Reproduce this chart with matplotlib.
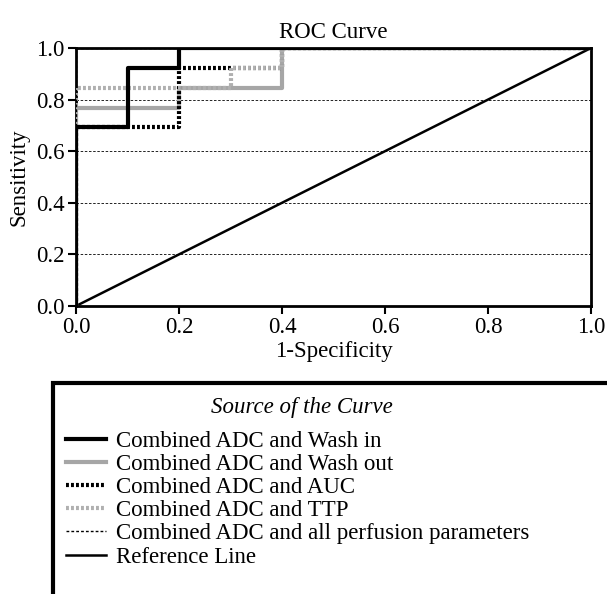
import matplotlib
matplotlib.use("Agg")
import matplotlib.pyplot as plt
from matplotlib.patches import Rectangle

plt.rcParams['font.family'] = ['Liberation Serif', 'DejaVu Serif']

# Data (1-specificity, sensitivity)
wash_in_x = [0, 0, 0.1, 0.1, 0.2, 0.2, 1.0]
wash_in_y = [0, 0.692, 0.692, 0.923, 0.923, 1.0, 1.0]
wash_out_x = [0, 0, 0.2, 0.2, 0.4, 0.4, 1.0]
wash_out_y = [0, 0.769, 0.769, 0.846, 0.846, 1.0, 1.0]
auc_x = [0, 0, 0.2, 0.2, 0.4, 0.4, 1.0]
auc_y = [0, 0.692, 0.692, 0.923, 0.923, 1.0, 1.0]
ttp_x = [0, 0, 0.3, 0.3, 0.4, 0.4, 1.0]
ttp_y = [0, 0.846, 0.846, 0.923, 0.923, 1.0, 1.0]
allp_x = [0, 0, 1.0]
allp_y = [0, 1.0, 1.0]
ref_x = [0, 1.0]
ref_y = [0, 1.0]

labels = ["Combined ADC and Wash in", "Combined ADC and Wash out",
          "Combined ADC and AUC", "Combined ADC and TTP",
          "Combined ADC and all perfusion parameters", "Reference Line"]
ticks = [0.0, 0.2, 0.4, 0.6, 0.8, 1.0]

FS = 16.5

fig = plt.figure(figsize=(6.07, 5.94), dpi=100)
ax = fig.add_axes([76 / 607, 1 - 306 / 594, 515 / 607, 258 / 594])

for t in ticks[1:-1]:
    ax.axhline(t, color='black', lw=0.6, ls=(0, (3, 2)), zorder=1)

l1, = ax.plot(wash_in_x, wash_in_y, color='black', lw=3, zorder=5)
l2, = ax.plot(wash_out_x, wash_out_y, color='#a6a6a6', lw=3, zorder=3)
l3, = ax.plot(auc_x, auc_y, color='black', lw=3, ls=(0, (0.7, 0.5)), zorder=4)
l4, = ax.plot(ttp_x, ttp_y, color='#b0b0b0', lw=3, ls=(0, (0.7, 0.5)), zorder=4.5)
l5, = ax.plot(allp_x, allp_y, color='black', lw=1, ls=(0, (2, 1.5)), zorder=6)
l6, = ax.plot(ref_x, ref_y, color='black', lw=1.8, zorder=2)

ax.set_xlim(0, 1)
ax.set_ylim(0, 1)
ax.set_xticks(ticks)
ax.set_yticks(ticks)
ax.set_xticklabels([f"{t:.1f}" for t in ticks])
ax.set_yticklabels([f"{t:.1f}" for t in ticks])
ax.tick_params(direction='out', length=6, width=1.5, labelsize=FS, pad=2)
for s in ax.spines.values():
    s.set_linewidth(2)
ax.set_title("ROC Curve", fontsize=FS, pad=7)
ax.set_xlabel("1-Specificity", fontsize=FS, labelpad=2)
ax.set_ylabel("Sensitivity", fontsize=FS, labelpad=5)

# Legend box (extends beyond figure)
fig.patches.append(Rectangle((53 / 607, -0.1), 1.0, 1 - 383 / 594 + 0.1,
                             transform=fig.transFigure, fill=False,
                             edgecolor='black', lw=3))
leg = fig.legend([l1, l2, l3, l4, l5, l6], labels, loc='upper left',
                 bbox_to_anchor=(66 / 607, 1 - 431 / 594), frameon=False,
                 fontsize=FS, handlelength=1.75, handletextpad=0.45,
                 labelspacing=0.09, borderaxespad=0, borderpad=0)
fig.text(302 / 607, 1 - 408 / 594, "Source of the Curve", ha='center',
         va='center', fontsize=FS, style='italic')

fig.savefig("out.png", dpi=100)
